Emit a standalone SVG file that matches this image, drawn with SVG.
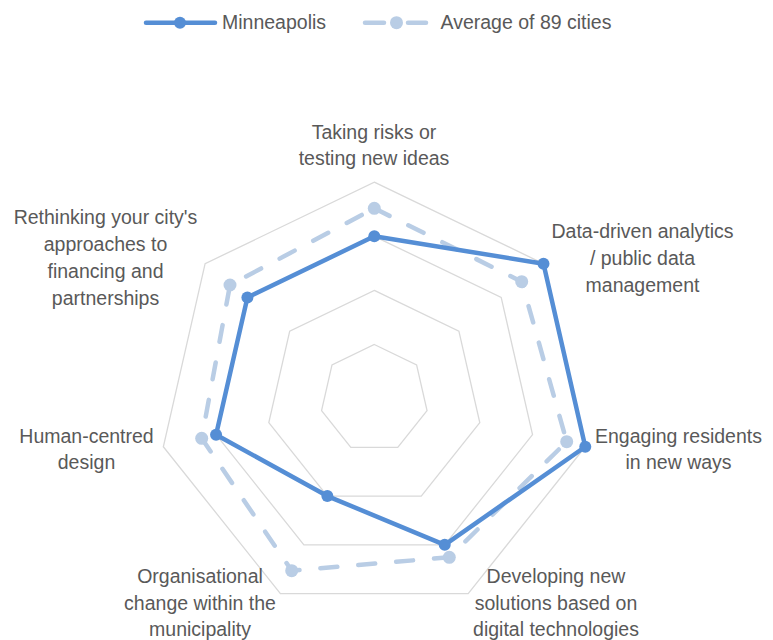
<svg xmlns="http://www.w3.org/2000/svg" width="773" height="640" viewBox="0 0 773 640">
<style>
.lbl{font-family:"Liberation Sans",Arial,sans-serif;font-size:19.5px;fill:#595959;text-anchor:middle}
.leg{font-family:"Liberation Sans",Arial,sans-serif;font-size:19.5px;fill:#595959}
.grid{fill:none;stroke:#D9D9D9;stroke-width:1.3}
.city{fill:none;stroke:#558ED5;stroke-width:4.5;stroke-linejoin:round}
.avg{fill:none;stroke:#B9CDE5;stroke-width:4.5;stroke-dasharray:17 21;stroke-linecap:round;stroke-linejoin:round}
.mc{fill:#558ED5}
.ma{fill:#B9CDE5}
</style>
<rect width="773" height="640" fill="#FFFFFF"/>
<g id="legend">
<line x1="146" y1="22.7" x2="215" y2="22.7" stroke="#558ED5" stroke-width="4.5" stroke-linecap="round"/>
<circle class="mc" cx="180" cy="22.7" r="6"/>
<text class="leg" x="222" y="29.3">Minneapolis</text>
<line x1="365" y1="22.7" x2="384" y2="22.7" stroke="#B9CDE5" stroke-width="4.5" stroke-linecap="round"/>
<line x1="408" y1="22.7" x2="426" y2="22.7" stroke="#B9CDE5" stroke-width="4.5" stroke-linecap="round"/>
<circle class="ma" cx="396.5" cy="22.7" r="6.5"/>
<text class="leg" x="440.5" y="29.3">Average of 89 cities</text>
</g>
<g id="grid">
<polygon class="grid" points="374.3,344.5 416.6,364.87 427.04,410.64 397.77,447.34 350.83,447.34 321.56,410.64 332.0,364.87"/>
<polygon class="grid" points="374.3,290.4 458.89,331.14 479.79,422.68 421.25,496.08 327.35,496.08 268.81,422.68 289.71,331.14"/>
<polygon class="grid" points="374.3,236.3 501.19,297.41 532.53,434.71 444.72,544.83 303.88,544.83 216.07,434.71 247.41,297.41"/>
<polygon class="grid" points="374.3,182.2 543.49,263.68 585.27,446.75 468.19,593.57 280.41,593.57 163.33,446.75 205.11,263.68"/>
</g>
<g id="connectors">
<polygon id="series-average" class="avg" points="374.3,208.3 521.7,281.7 566.7,441.7 449.3,557.3 291.7,570.7 201.7,438.3 230,285"/>
<polygon id="series-minneapolis" class="city" points="374.3,236.3 543.49,263.68 585.27,446.75 444.72,544.83 327.35,496.08 216.07,434.71 247.41,297.41"/>
</g>
<g id="markers-average">
<circle class="ma" cx="374.3" cy="208.3" r="6.5"/>
<circle class="ma" cx="521.7" cy="281.7" r="6.5"/>
<circle class="ma" cx="566.7" cy="441.7" r="6.5"/>
<circle class="ma" cx="449.3" cy="557.3" r="6.5"/>
<circle class="ma" cx="291.7" cy="570.7" r="6.5"/>
<circle class="ma" cx="201.7" cy="438.3" r="6.5"/>
<circle class="ma" cx="230" cy="285" r="6.5"/>
</g>
<g id="markers-minneapolis">
<circle class="mc" cx="374.3" cy="236.3" r="6"/>
<circle class="mc" cx="543.49" cy="263.68" r="6"/>
<circle class="mc" cx="585.27" cy="446.75" r="6"/>
<circle class="mc" cx="444.72" cy="544.83" r="6"/>
<circle class="mc" cx="327.35" cy="496.08" r="6"/>
<circle class="mc" cx="216.07" cy="434.71" r="6"/>
<circle class="mc" cx="247.41" cy="297.41" r="6"/>
</g>
<g id="axis-taking-risks">
<text class="lbl" x="374" y="139">Taking risks or</text>
<text class="lbl" x="374" y="165">testing new ideas</text>
</g>
<g id="axis-data-driven">
<text class="lbl" x="642.5" y="238.3">Data-driven analytics</text>
<text class="lbl" x="642.5" y="265">/ public data</text>
<text class="lbl" x="642.5" y="291.7">management</text>
</g>
<g id="axis-engaging">
<text class="lbl" x="678.5" y="442.7">Engaging residents</text>
<text class="lbl" x="678.5" y="469">in new ways</text>
</g>
<g id="axis-developing">
<text class="lbl" x="556" y="583">Developing new</text>
<text class="lbl" x="556" y="609.5">solutions based on</text>
<text class="lbl" x="556" y="636">digital technologies</text>
</g>
<g id="axis-organisational">
<text class="lbl" x="200" y="583">Organisational</text>
<text class="lbl" x="200" y="609.5">change within the</text>
<text class="lbl" x="200" y="636">municipality</text>
</g>
<g id="axis-human-centred">
<text class="lbl" x="86.5" y="442.7">Human-centred</text>
<text class="lbl" x="86.5" y="469">design</text>
</g>
<g id="axis-rethinking">
<text class="lbl" x="105.5" y="224.3">Rethinking your city's</text>
<text class="lbl" x="105.5" y="250.5">approaches to</text>
<text class="lbl" x="105.5" y="278">financing and</text>
<text class="lbl" x="105.5" y="305">partnerships</text>
</g>
</svg>
